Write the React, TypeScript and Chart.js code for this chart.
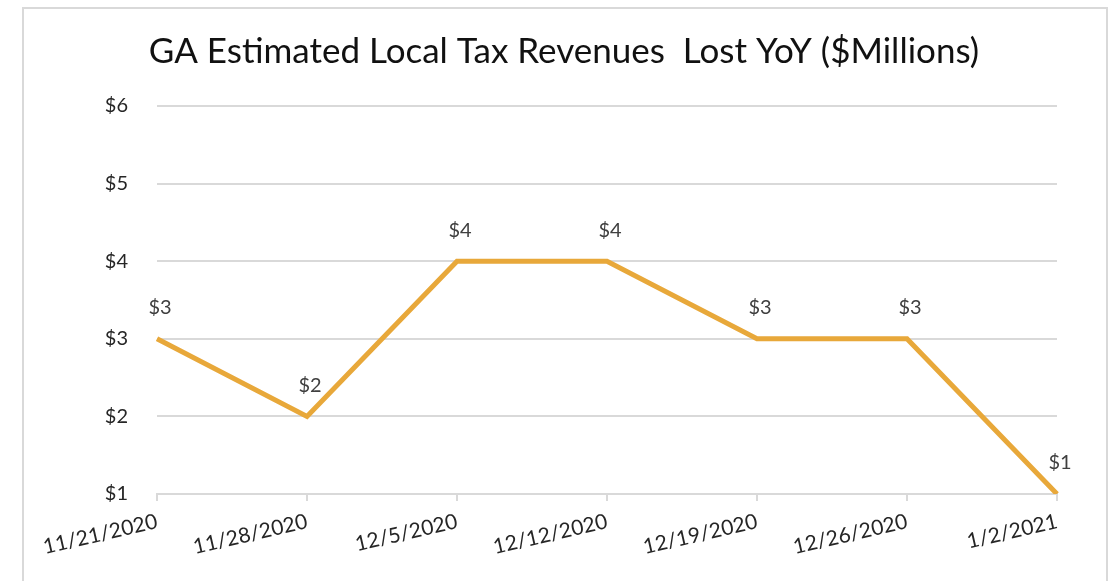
import React, { useEffect, useRef } from "react";
import { Chart, registerables } from "chart.js";

Chart.register(...registerables);

const categories = [
  "11/21/2020",
  "11/28/2020",
  "12/5/2020",
  "12/12/2020",
  "12/19/2020",
  "12/26/2020",
  "1/2/2021",
];
const revenueLost = [3, 2, 4, 4, 3, 3, 1];
const yTickValues = [1, 2, 3, 4, 5, 6];
const titleText = "GA Estimated Local Tax Revenues  Lost YoY ($Millions)";

const FONT = "Lato, 'Open Sans', sans-serif";

const dataLabelPlugin = {
  id: "dataLabels",
  afterDatasetsDraw(chart: any) {
    const ctx = chart.ctx;
    const meta = chart.getDatasetMeta(0);
    const data = chart.data.datasets[0].data as number[];
    ctx.save();
    ctx.font = `20px ${FONT}`;
    ctx.fillStyle = "#404040";
    ctx.textAlign = "center";
    ctx.textBaseline = "middle";
    meta.data.forEach((pt: any, i: number) => {
      ctx.fillText("$" + data[i], pt.x + 3, pt.y - 31);
    });
    ctx.restore();
  },
};

const titlePlugin = {
  id: "customTitle",
  afterDraw(chart: any) {
    const ctx = chart.ctx;
    ctx.save();
    ctx.font = `35px ${FONT}`;
    ctx.fillStyle = "#111111";
    ctx.textAlign = "center";
    ctx.textBaseline = "middle";
    ctx.fillText(titleText, 564, 52);
    ctx.restore();
  },
};

export default function App() {
  const canvasRef = useRef<HTMLCanvasElement | null>(null);

  useEffect(() => {
    if (!canvasRef.current) return;
    const chart = new Chart(canvasRef.current, {
      type: "line",
      data: {
        labels: categories,
        datasets: [
          {
            data: revenueLost,
            borderColor: "#E8A83A",
            backgroundColor: "#E8A83A",
            borderWidth: 5,
            pointRadius: 0,
            tension: 0,
            borderJoinStyle: "miter",
          },
        ],
      },
      options: {
        animation: false,
        responsive: false,
        maintainAspectRatio: false,
        layout: { padding: { left: 0, right: 62, top: 106, bottom: 0 } },
        plugins: {
          legend: { display: false },
          tooltip: { enabled: false },
          title: { display: false },
        },
        scales: {
          x: {
            type: "category",
            offset: false,
            grid: {
              display: true,
              drawOnChartArea: false,
              drawTicks: true,
              tickLength: 7,
              color: "#d9d9d9",
              lineWidth: 2,
            },
            border: { display: true, color: "#d9d9d9", width: 2 },
            ticks: {
              color: "#262626",
              font: { family: FONT, size: 21 },
              minRotation: 13,
              maxRotation: 13,
              autoSkip: false,
              padding: 8,
            },
            afterFit(scale: any) {
              scale.height = 87;
            },
          },
          y: {
            min: 1,
            max: 6,
            afterBuildTicks(scale: any) {
              scale.ticks = yTickValues.map((v) => ({ value: v }));
            },
            grid: {
              display: true,
              drawTicks: false,
              color: "#d9d9d9",
              lineWidth: 2,
            },
            border: { display: false },
            ticks: {
              color: "#262626",
              font: { family: FONT, size: 20 },
              padding: 29,
              callback: (v: any) => "$" + v,
            },
            afterFit(scale: any) {
              scale.width = 157;
            },
          },
        },
      },
      plugins: [dataLabelPlugin, titlePlugin],
    } as any);
    return () => chart.destroy();
  }, []);

  return (
    <div
      style={{
        position: "fixed",
        left: 0,
        top: 0,
        width: 1119,
        height: 581,
        background: "#ffffff",
        overflow: "hidden",
      }}
    >
      <div
        style={{
          position: "absolute",
          left: 22,
          top: 7,
          width: 1082,
          height: 620,
          border: "2px solid #d9d9d9",
        }}
      />
      <canvas
        ref={canvasRef}
        width={1119}
        height={581}
        style={{ position: "absolute", left: 0, top: 0 }}
      />
    </div>
  );
}
